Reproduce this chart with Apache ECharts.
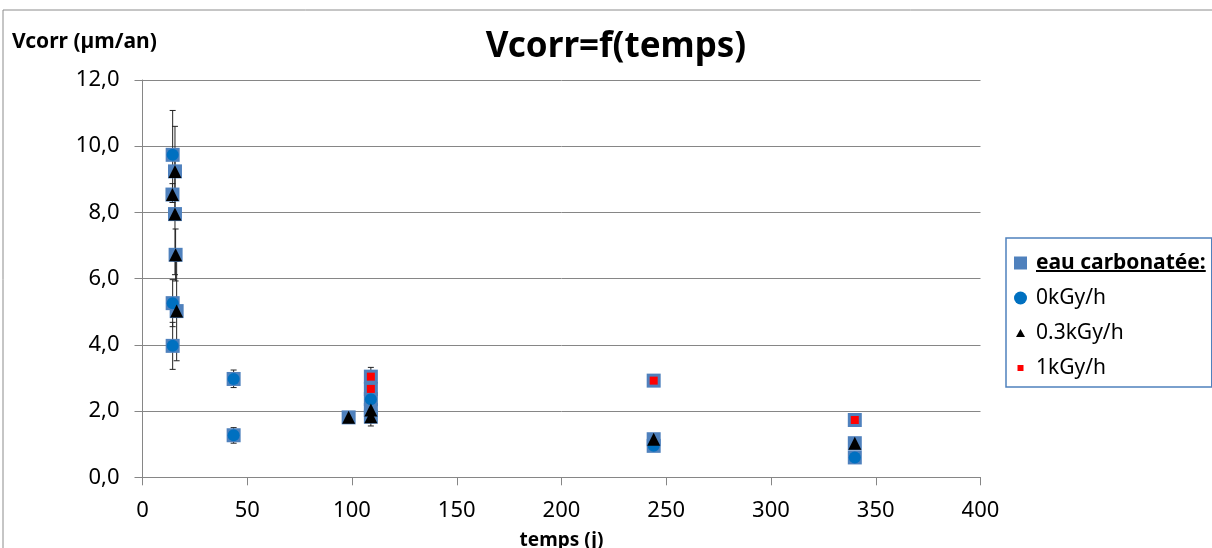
<!DOCTYPE html>
<html>
<head>
<meta charset="utf-8">
<title>Vcorr=f(temps)</title>
<script src="https://cdn.jsdelivr.net/npm/echarts@6/dist/echarts.min.js"></script>
<style>
html, body { margin: 0; padding: 0; background: #fff; }
#grafico { width: 1212px; height: 548px; }
</style>
</head>
<body>
<div id="grafico"></div>
<script>
// jours (j) / Vcorr (µm/an)
var jours_0kGy = [14.4, 14.4, 14.4, 43.5, 43.5, 109, 244, 340];
var vcorr_0kGy = [9.74, 5.26, 3.97, 2.97, 1.27, 2.36, 0.95, 0.60];

var jours_03kGy = [15.5, 14.3, 15.5, 15.8, 16.3, 98.4, 109, 109, 244, 340];
var vcorr_03kGy = [9.24, 8.54, 7.95, 6.72, 5.02, 1.81, 2.03, 1.83, 1.15, 1.03];

var jours_1kGy = [109, 109, 244, 340];
var vcorr_1kGy = [3.04, 2.67, 2.92, 1.73];

// barres d'erreur : jour, min, max
var err_jours = [14.4, 14.4, 14.4, 15.5, 14.3, 15.5, 15.8, 16.3, 43.5, 43.5, 109, 109];
var err_min   = [8.40, 4.55, 3.26, 7.88, 8.30, 6.12, 5.93, 3.52, 2.71, 1.03, 2.76, 1.55];
var err_max   = [11.08, 5.97, 4.68, 10.60, 8.87, 9.78, 7.50, 6.52, 3.24, 1.50, 3.32, 2.11];

var ticks_y = [0, 2, 4, 6, 8, 10, 12];
var ticks_x = [0, 50, 100, 150, 200, 250, 300, 350, 400];

var police = 'Noto Sans';

function paires(xs, ys) {
    var out = [];
    xs.forEach(function (x, i) { out.push([x, ys[i]]); });
    return out;
}

var data_0kGy = paires(jours_0kGy, vcorr_0kGy);
var data_03kGy = paires(jours_03kGy, vcorr_03kGy);
var data_1kGy = paires(jours_1kGy, vcorr_1kGy);
var data_eau = data_0kGy.concat(data_03kGy).concat(data_1kGy);

var data_err = [];
err_jours.forEach(function (j, i) {
    data_err.push([j, err_min[i], err_max[i]]);
});

var myChart = echarts.init(document.getElementById('grafico'));

// position de la légende (pour le soulignement)
var leg_left = 1006, leg_top = 238, leg_pad = [14, 6, 8, 8];
var leg_icon = 13;
var leg_size = 21;
var leg_font = 'bold ' + leg_size + 'px "' + police + '"';
var ctx = document.createElement('canvas').getContext('2d');
ctx.font = leg_font;
var larg_titre = ctx.measureText('eau carbonatée:').width;
var x_texte = leg_left + leg_pad[3] + leg_icon + 5 + 4;
var y_ligne1 = leg_top + leg_pad[0] + 11;

var option = {
    animation: false,
    textStyle: { fontFamily: police, color: '#000' },
    title: [{
        text: 'Vcorr=f(temps)',
        left: 611,
        textAlign: 'center',
        top: 25,
        textStyle: { fontFamily: police, fontWeight: 'bold', fontSize: 35, color: '#000' }
    }, {
        text: 'Vcorr (µm/an)',
        left: 7,
        top: 27,
        textStyle: { fontFamily: police, fontWeight: 'bold', fontSize: 21, color: '#000' }
    }],
    legend: {
        orient: 'vertical',
        left: leg_left,
        top: leg_top,
        padding: leg_pad,
        itemGap: 13,
        itemWidth: leg_icon,
        itemHeight: leg_icon,
        borderColor: '#4F81BD',
        borderWidth: 1.5,
        backgroundColor: '#fff',
        textStyle: { fontFamily: police, fontSize: leg_size, color: '#000', lineHeight: 22, padding: [0, 0, 0, 4] },
        data: [
            { name: 'eau carbonatée:', icon: 'rect', textStyle: { fontWeight: 'bold' } },
            { name: '0kGy/h', icon: 'circle' },
            { name: '0.3kGy/h', icon: 'path://M0,0M13,13M6.5,2.5L11,10.5L2,10.5Z' },
            { name: '1kGy/h', icon: 'path://M0,0M13,13M3.5,3.5L9.5,3.5L9.5,9.5L3.5,9.5Z' }
        ]
    },
    grid: { left: 142.5, right: 231.5, top: 80, bottom: 70.7, outerBoundsMode: 'none', containLabel: false },
    xAxis: {
        type: 'value',
        min: ticks_x[0],
        max: ticks_x[ticks_x.length - 1],
        interval: 50,
        name: 'temps (j)',
        nameLocation: 'middle',
        nameGap: 54,
        nameTextStyle: { fontFamily: police, fontWeight: 'bold', fontSize: 19, color: '#000' },
        axisLine: { show: true, onZero: false, lineStyle: { color: '#868686', width: 1 } },
        axisTick: { show: true, inside: false, length: 8, lineStyle: { color: '#868686' } },
        axisLabel: { margin: 22, fontFamily: police, fontSize: 22, color: '#000' },
        splitLine: { show: false }
    },
    yAxis: {
        type: 'value',
        min: ticks_y[0],
        max: ticks_y[ticks_y.length - 1],
        interval: 2,
        axisLine: { show: true, lineStyle: { color: '#868686', width: 1 } },
        axisTick: { show: true, inside: false, length: 8, lineStyle: { color: '#868686' } },
        axisLabel: {
            margin: 23,
            fontFamily: police,
            fontSize: 22,
            color: '#000',
            formatter: function (v) { return v.toFixed(1).replace('.', ','); }
        },
        splitLine: { show: true, lineStyle: { color: '#868686', width: 1 } }
    },
    graphic: [{
        type: 'rect',
        silent: true,
        z: -10,
        shape: { x: 3, y: 10, width: 1240, height: 600 },
        style: { fill: 'none', stroke: '#8c8c8c', lineWidth: 1 }
    }, {
        type: 'line',
        silent: true,
        z: 100,
        shape: { x1: x_texte, y1: y_ligne1 + 8, x2: x_texte + larg_titre, y2: y_ligne1 + 8 },
        style: { stroke: '#000', lineWidth: 2 }
    }],
    series: [{
        name: 'barres',
        type: 'custom',
        z: 1,
        data: data_err,
        renderItem: function (params, api) {
            var haut = api.coord([api.value(0), api.value(2)]);
            var bas = api.coord([api.value(0), api.value(1)]);
            var c = 3;
            var st = { stroke: '#222', lineWidth: 1 };
            return {
                type: 'group',
                children: [
                    { type: 'line', shape: { x1: haut[0], y1: haut[1], x2: bas[0], y2: bas[1] }, style: st },
                    { type: 'line', shape: { x1: haut[0] - c, y1: haut[1], x2: haut[0] + c, y2: haut[1] }, style: st },
                    { type: 'line', shape: { x1: bas[0] - c, y1: bas[1], x2: bas[0] + c, y2: bas[1] }, style: st }
                ]
            };
        }
    }, {
        name: 'eau carbonatée:',
        type: 'scatter',
        z: 2,
        symbol: 'rect',
        symbolSize: 14,
        itemStyle: { color: '#4F81BD', opacity: 1 },
        data: data_eau
    }, {
        name: '0kGy/h',
        type: 'scatter',
        z: 3,
        symbol: 'circle',
        symbolSize: 12,
        itemStyle: { color: '#0070C0', opacity: 1 },
        data: data_0kGy
    }, {
        name: '0.3kGy/h',
        type: 'scatter',
        z: 4,
        symbol: 'triangle',
        symbolSize: 13,
        itemStyle: { color: '#000', opacity: 1 },
        data: data_03kGy
    }, {
        name: '1kGy/h',
        type: 'scatter',
        z: 5,
        symbol: 'rect',
        symbolSize: 8,
        itemStyle: { color: '#FF0000', opacity: 1 },
        data: data_1kGy
    }]
};

myChart.setOption(option);
</script>
</body>
</html>
